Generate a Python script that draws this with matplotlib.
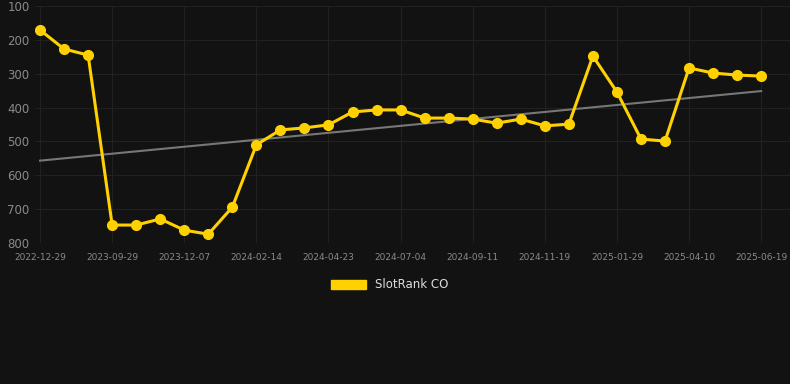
# SlotRank CO rank over time
import numpy as np
import matplotlib.pyplot as plt
from matplotlib.patches import Patch

tick_labels = ['2022-12-29', '2023-09-29', '2023-12-07', '2024-02-14', '2024-04-23',
               '2024-07-04', '2024-09-11', '2024-11-19', '2025-01-29', '2025-04-10',
               '2025-06-19']
rank = [171, 227, 245, 747, 747, 729, 762, 774, 694, 510,
        466, 460, 451, 413, 407, 407, 431, 431, 434, 446,
        434, 454, 449, 248, 354, 493, 499, 283, 298, 304, 307]

bg = '#121212'
gold = '#FFD100'

x = np.arange(len(rank))
fit = np.polyfit(x, rank, 1)

fig = plt.figure(figsize=(7.9, 3.84), dpi=100, facecolor=bg)
ax = fig.add_axes([35/790, 1 - 243/384, 755/790, 237/384], facecolor=bg)

ax.plot(x, np.polyval(fit, x), color='#777777', lw=1.5, zorder=2)
ax.plot(x, rank, color=gold, lw=2.2, marker='o', ms=7, zorder=3)

ax.set_ylim(800, 100)
ax.set_yticks([100, 200, 300, 400, 500, 600, 700, 800])
ax.set_xlim(-0.21, 31.2)
ax.set_xticks(x[::3])
ax.set_xticklabels(tick_labels)

ax.grid(True, color='#212121', lw=0.8)
for s in ax.spines.values():
    s.set_visible(False)
ax.tick_params(axis='y', colors='#8a8a8a', labelsize=8.5, length=0, pad=4)
ax.tick_params(axis='x', colors='#8a8a8a', labelsize=6.5, length=0, pad=7)

fig.legend(handles=[Patch(color=gold, label='SlotRank CO')],
           loc='center', bbox_to_anchor=(390/790, 1 - 285/384), frameon=False,
           labelcolor='#dddddd', fontsize=8.5, handlelength=2.9, handleheight=0.9)

fig.savefig('out.png', dpi=100, facecolor=bg)
